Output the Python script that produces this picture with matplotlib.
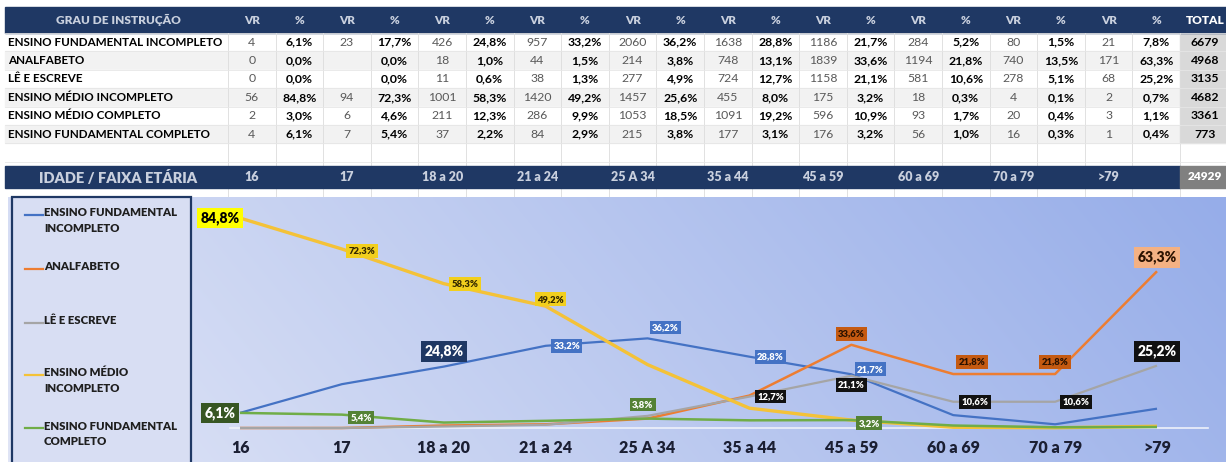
import matplotlib
matplotlib.use("Agg")
import matplotlib.pyplot as plt
import matplotlib.transforms as mtransforms
from matplotlib.patches import Rectangle
import numpy as np

plt.rcParams['font.family'] = ['Lato', 'DejaVu Sans']

# ---- table data ----
edu_levels = [
    'ENSINO FUNDAMENTAL INCOMPLETO',
    'ANALFABETO',
    'LÊ E ESCREVE',
    'ENSINO MÉDIO INCOMPLETO',
    'ENSINO MÉDIO COMPLETO',
    'ENSINO FUNDAMENTAL COMPLETO',
]
age_groups = ['16', '17', '18 a 20', '21 a 24', '25 A 34', '35 a 44',
              '45 a 59', '60 a 69', '70 a 79', '>79']

vr_efi   = [4, 23, 426, 957, 2060, 1638, 1186, 284, 80, 21]
vr_analf = [0, None, 18, 44, 214, 748, 1839, 1194, 740, 171]
vr_le    = [0, None, 11, 38, 277, 724, 1158, 581, 278, 68]
vr_emi   = [56, 94, 1001, 1420, 1457, 455, 175, 18, 4, 2]
vr_emc   = [2, 6, 211, 286, 1053, 1091, 596, 93, 20, 3]
vr_efc   = [4, 7, 37, 84, 215, 177, 176, 56, 16, 1]

pct_efi   = [6.1, 17.7, 24.8, 33.2, 36.2, 28.8, 21.7, 5.2, 1.5, 7.8]
pct_analf = [0.0, 0.0, 1.0, 1.5, 3.8, 13.1, 33.6, 21.8, 13.5, 63.3]
pct_le    = [0.0, 0.0, 0.6, 1.3, 4.9, 12.7, 21.1, 10.6, 5.1, 25.2]
pct_emi   = [84.8, 72.3, 58.3, 49.2, 25.6, 8.0, 3.2, 0.3, 0.1, 0.7]
pct_emc   = [3.0, 4.6, 12.3, 9.9, 18.5, 19.2, 10.9, 1.7, 0.4, 1.1]
pct_efc   = [6.1, 5.4, 2.2, 2.9, 3.8, 3.1, 3.2, 1.0, 0.3, 0.4]

totals = [6679, 4968, 3135, 4682, 3361, 773]
grand_total = 24929

# ---- chart data (as drawn in the chart) ----
chart_names = ['ENSINO FUNDAMENTAL\nINCOMPLETO', 'ANALFABETO', 'LÊ E ESCREVE',
               'ENSINO MÉDIO\nINCOMPLETO', 'ENSINO FUNDAMENTAL\nCOMPLETO']
chart_efi   = [6.1, 17.7, 24.8, 33.2, 36.2, 28.8, 21.7, 5.2, 1.5, 7.8]
chart_analf = [0.0, 0.0, 1.0, 1.5, 3.8, 13.1, 33.6, 21.8, 21.8, 63.3]
chart_le    = [0.0, 0.0, 0.6, 1.3, 4.9, 12.7, 21.1, 10.6, 10.6, 25.2]
chart_emi   = [84.8, 72.3, 58.3, 49.2, 25.6, 8.0, 3.2, 0.3, 0.1, 0.7]
chart_efc   = [6.1, 5.4, 2.2, 2.9, 3.8, 3.1, 3.2, 1.0, 0.3, 0.4]

NAVY = '#1F3864'
HEAD_TXT = '#C9D0DE'

def fmt_pct(v):
    return ('%.1f%%' % v).replace('.', ',')


W, H = 1226, 462
fig = plt.figure(figsize=(W / 100, H / 100), dpi=100)
bg = fig.add_axes([0, 0, 1, 1])
bg.set_xlim(0, W)
bg.set_ylim(H, 0)
bg.axis('off')

# ---- table layout (pixels) ----
col0 = 228
colw = 47.6
head_top, head_bot = 7, 33
row_h = 18.4
tot_x0 = col0 + 20 * colw

bg.add_patch(Rectangle((5, head_top), W - 5, head_bot - head_top, color=NAVY, zorder=1))
bg.text(118, (head_top + head_bot) / 2, 'GRAU DE INSTRUÇÃO', ha='center', va='center',
        fontsize=8.6, fontweight='heavy', color=HEAD_TXT, zorder=3)
for k in range(20):
    cx = col0 + (k + 0.5) * colw
    bg.text(cx, (head_top + head_bot) / 2, 'VR' if k % 2 == 0 else '%', ha='center',
            va='center', fontsize=8.4, fontweight='heavy', color=HEAD_TXT, zorder=3)
bg.text((tot_x0 + W) / 2 + 2, (head_top + head_bot) / 2, 'TOTAL', ha='center', va='center',
        fontsize=8.6, fontweight='heavy', color='white', zorder=3)

vr_rows = [vr_efi, vr_analf, vr_le, vr_emi, vr_emc, vr_efc]
pct_rows = [pct_efi, pct_analf, pct_le, pct_emi, pct_emc, pct_efc]
for r, name in enumerate(edu_levels):
    y0 = head_bot + r * row_h
    yc = y0 + row_h / 2
    fill = 'white' if r % 2 == 0 else '#F2F2F2'
    bg.add_patch(Rectangle((5, y0), tot_x0 - 5, row_h, color=fill, zorder=0))
    bg.add_patch(Rectangle((tot_x0, y0), W - tot_x0, row_h, color='#D9D9D9', zorder=0))
    bg.text(8, yc, name, ha='left', va='center', fontsize=8.4, fontweight='bold',
            color='black', zorder=3)
    for a in range(10):
        v = vr_rows[r][a]
        if v is not None:
            bg.text(col0 + (2 * a + 0.5) * colw, yc, str(v), ha='center', va='center',
                    fontsize=8.8, color='#595959', zorder=3)
        bg.text(col0 + (2 * a + 1.5) * colw, yc, fmt_pct(pct_rows[r][a]), ha='center',
                va='center', fontsize=8.8, fontweight='bold', color='black', zorder=3)
    bg.text((tot_x0 + W) / 2 + 2, yc, str(totals[r]), ha='center', va='center',
            fontsize=8.8, fontweight='bold', color='black', zorder=3)

# grid lines of the sheet
band_top, band_bot = 166, 188
chart_top = 197
for k in range(21):
    x = col0 + k * colw
    bg.plot([x, x], [head_bot, band_top], color='#DCDCDC', lw=0.6, zorder=1)
    bg.plot([x, x], [band_bot, chart_top], color='#DCDCDC', lw=0.6, zorder=1)
for r in range(8):
    y = head_bot + r * row_h
    bg.plot([5, W], [y, y], color='#E6E6E6', lw=0.6, zorder=1)

# age band
bg.add_patch(Rectangle((5, band_top), tot_x0 - 5, band_bot - band_top, color=NAVY, zorder=1))
bg.add_patch(Rectangle((tot_x0, band_top), W - tot_x0, band_bot - band_top,
                       color='#808080', zorder=1))
bg.text(118, (band_top + band_bot) / 2, 'IDADE / FAIXA ETÁRIA', ha='center', va='center',
        fontsize=10.5, fontweight='heavy', color=HEAD_TXT, zorder=3)
for a, lab in enumerate(age_groups):
    bg.text(col0 + (2 * a + 0.5) * colw, (band_top + band_bot) / 2, lab, ha='center',
            va='center', fontsize=9, fontweight='heavy', color=HEAD_TXT, zorder=3)
bg.text((tot_x0 + W) / 2 + 2, (band_top + band_bot) / 2, str(grand_total), ha='center',
        va='center', fontsize=8.6, fontweight='heavy', color='white', zorder=3)

# chart background gradient
gx = np.linspace(0, 1, 256)
gy = np.linspace(0, 1, 64)
GX, GY = np.meshgrid(gx, gy)
c_left = np.array([224, 229, 246]) / 255
c_right = np.array([150, 173, 233]) / 255
t = np.clip(GX * 0.85 + (1 - GY) * 0.15, 0, 1)[..., None]
grad = c_left * (1 - t) + c_right * t
bg.imshow(grad, extent=(8, W, H, chart_top), aspect='auto', zorder=1, interpolation='bilinear')

# legend box
bg.add_patch(Rectangle((12, chart_top), 179, H - chart_top + 10, facecolor='#D8DEF3',
                       edgecolor=NAVY, lw=1.6, zorder=2))

# ---- chart ----
x0_px, x9_px = 240, 1157
step = (x9_px - x0_px) / 9
ax_left = 191
zero_px = 428
px_per = 2.476
ax = fig.add_axes([ax_left / W, 0, (W - ax_left) / W, (H - chart_top) / H])
ax.set_xlim(-(x0_px - ax_left) / step, 9 + (W - x9_px) / step)
ax.set_ylim(-(H - zero_px) / px_per, (zero_px - chart_top) / px_per)
ax.axis('off')
ax.patch.set_alpha(0)

xs = np.arange(len(age_groups))
ax.plot([-0.1, 9.5], [0, 0], color='#EEF1FA', lw=1.2, zorder=1)

series = [chart_efi, chart_analf, chart_le, chart_emi, chart_efc]
colors = ['#4472C4', '#ED7D31', '#A5A5A5', '#F4C238', '#70AD47']
widths = [1.6, 1.8, 1.6, 2.4, 1.8]
for s, c, lw in zip(series, colors, widths):
    ax.plot(xs, s, color=c, lw=lw, zorder=3, solid_capstyle='butt')

# data labels: (series, index, dx px, dy px, face, text colour, big)
labels = [
    (0, 0, -20, 0, '#375623', 'white', True),
    (0, 2, 0, 15, NAVY, 'white', True),
    (0, 3, 21, 0, '#4472C4', 'white', False),
    (0, 4, 18, 11, '#4472C4', 'white', False),
    (0, 5, 21, 0, '#4472C4', 'white', False),
    (0, 6, 19, 5, '#4472C4', 'white', False),
    (1, 6, 0, 11, '#C55A11', '#2B1200', False),
    (1, 7, 19, 12, '#C55A11', '#2B1200', False),
    (1, 8, 0, 12, '#C55A11', '#2B1200', False),
    (1, 9, 0, 14, '#F4B183', '#2B1200', True),
    (2, 5, 21, 0, '#111111', 'white', False),
    (2, 6, 0, -9, '#111111', 'white', False),
    (2, 7, 22, 0, '#111111', 'white', False),
    (2, 8, 21, 0, '#111111', 'white', False),
    (2, 9, 0, 14, '#111111', 'white', True),
    (3, 0, -20, 0, '#FFFF00', 'black', True),
    (3, 1, 20, -2, '#F2CF1D', '#332800', False),
    (3, 2, 21, 0, '#F2CF1D', '#332800', False),
    (3, 3, 5, 7, '#F2CF1D', '#332800', False),
    (4, 1, 19, -3, '#548235', 'white', False),
    (4, 4, -5, 14, '#548235', 'white', False),
    (4, 6, 18, -3, '#548235', 'white', False),
]
for si, i, dx, dy, face, tc, big in labels:
    v = series[si][i]
    ax.annotate(fmt_pct(v), (xs[i], v), xytext=(dx, dy), textcoords='offset pixels',
                ha='center', va='center', fontsize=10 if big else 6.8, fontweight='heavy',
                color=tc, zorder=6,
                bbox=dict(boxstyle='square,pad=0.25', fc=face, ec='none'))

tick_tr = mtransforms.blended_transform_factory(ax.transData, ax.transAxes)
for i, lab in enumerate(age_groups):
    ax.text(xs[i], (H - 448) / (H - chart_top), lab, transform=tick_tr, ha='center',
            va='center', fontsize=11.5, fontweight='heavy', color='#1B1F33')

# legend entries (pixel coords on background axes)
leg_y = [215, 269, 323, 375, 428]
for name, c, y in zip(chart_names, colors, leg_y):
    bg.plot([25, 43], [y, y], color=c, lw=1.6, zorder=4)
    bg.text(44, y - 7.5, name, ha='left', va='top', fontsize=8.2, fontweight='heavy',
            color='#1F1F1F', linespacing=1.45, zorder=4)

fig.savefig('out.png', dpi=100)
